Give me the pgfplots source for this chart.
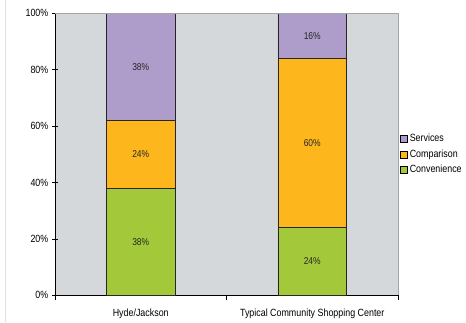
\documentclass[border=0pt]{standalone}
\usepackage{pgfplots}
\pgfplotsset{compat=1.18}
\usepackage{fontspec}
\setmainfont[FakeStretch=0.85]{Liberation Sans}
\definecolor{services}{HTML}{AE9CCB}
\definecolor{comparison}{HTML}{FDB71C}
\definecolor{convenience}{HTML}{A3C93A}
\definecolor{plotbg}{HTML}{D4D8DB}
\begin{document}
\fontsize{10.5}{12}\selectfont
\begin{tikzpicture}
\begin{axis}[name=ax, scale only axis, width=343bp, height=282bp,
  ybar stacked, bar width=0.4,
  xmin=-0.5, xmax=1.5, ymin=0, ymax=100,
  axis background/.style={fill=plotbg},
  axis x line*=bottom, axis y line*=left,
  axis line style={-, black, line width=0.8pt},
  xtick={0,1}, xticklabels={Hyde/Jackson, Typical Community Shopping Center},
  major x tick style={draw=none},
  minor xtick={-0.5,0.5,1.5},
  minor x tick style={black, line width=0.6pt},
  xtick align=outside, minor tick length=5bp,
  ytick={0,20,40,60,80,100},
  yticklabel={\pgfmathprintnumber{\tick}\%},
  ytick align=center, major tick length=6bp,
  y tick style={black, line width=0.6pt},
  /pgf/number format/assume math mode=true,
  ticklabel style={font=\fontsize{10.5}{12}\selectfont},
  xticklabel style={yshift=-4bp},
  nodes near coords={\pgfmathprintnumber{\pgfplotspointmeta}\%},
  point meta=explicit,
  every node near coord/.append style={font=\fontsize{10}{11}\selectfont, text=black!85},
  legend style={at={(1,0.5)}, anchor=west, xshift=1bp, draw=none, fill=none,
    font=\fontsize{10.5}{12}\selectfont, row sep=2.5bp, inner sep=1bp},
  legend cell align=left, reverse legend,
  legend image code/.code={\draw[#1, draw=black, line width=0.6pt] (0bp,-3.5bp) rectangle (7bp,3.5bp);},
  clip=false,
]
\addplot[fill=convenience, draw=black!85, line width=0.7pt] coordinates {(0,38) [38] (1,24) [24]};
\addlegendentry{Convenience}
\addplot[fill=comparison, draw=black!85, line width=0.7pt] coordinates {(0,24) [24] (1,60) [60]};
\addlegendentry{Comparison}
\addplot[fill=services, draw=black!85, line width=0.7pt] coordinates {(0,38) [38] (1,16) [16]};
\addlegendentry{Services}
\end{axis}
\draw[gray!70, line width=0.6pt] (ax.north west) -- (ax.north east) -- (ax.south east);
\draw[gray!25, line width=0.6pt] ([xshift=-50bp,yshift=-27bp]ax.south west) -- ++(0,322bp);
\path[use as bounding box] ([shift={(-55bp,-27bp)}]ax.south west) rectangle ([shift={(68bp,13bp)}]ax.north east);
\end{tikzpicture}
\end{document}
